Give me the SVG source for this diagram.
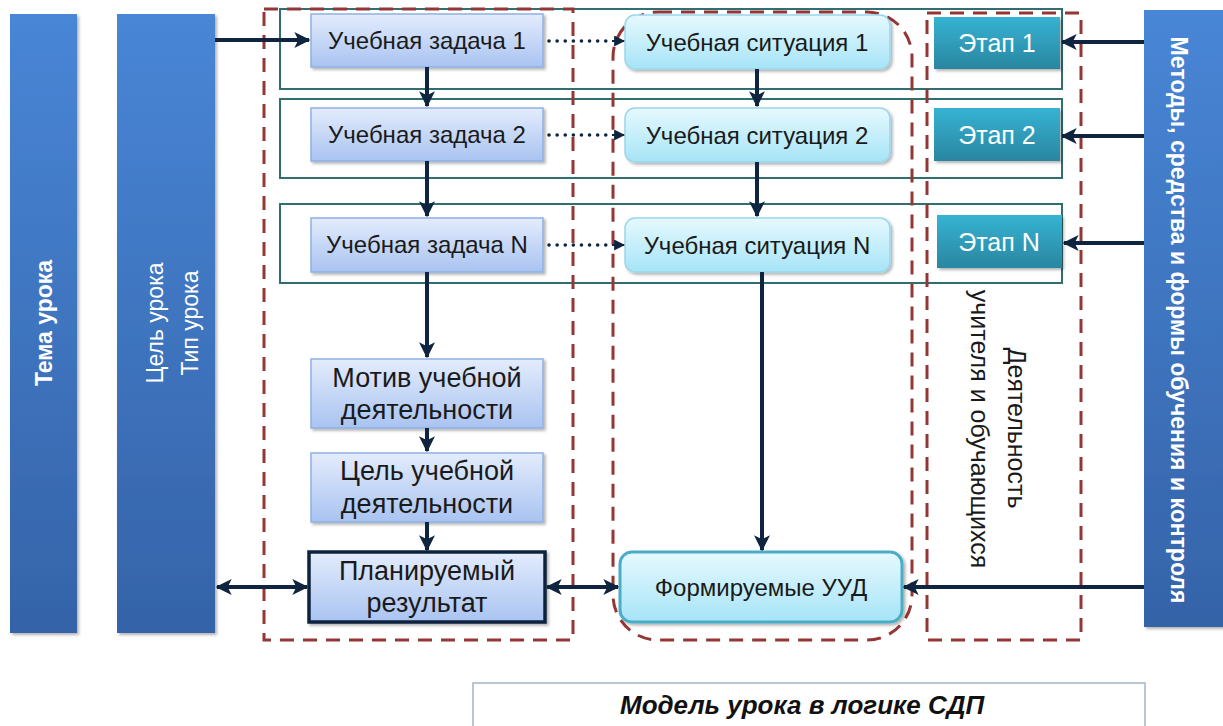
<svg xmlns="http://www.w3.org/2000/svg" width="1223" height="726" viewBox="0 0 1223 726">
<style>
  text { font-family: "Liberation Sans", Arial, sans-serif; }
  .bar { fill: url(#gBar); filter: url(#sh); }
  .bt { fill: #ffffff; font-size: 23px; }
  .task { fill: url(#gTask); stroke: #8fb0e3; stroke-width: 1.5; filter: url(#sh); }
  .sit { fill: url(#gSit); stroke: #9ad6ea; stroke-width: 1.5; filter: url(#sh); }
  .stage { fill: url(#gStage); filter: url(#sh); }
  .tx { fill: #1a1a1a; font-size: 24px; text-anchor: middle; }
  .tl { fill: #1a1a1a; font-size: 27px; text-anchor: middle; }
  .wt { fill: #ffffff; font-size: 25px; text-anchor: middle; }
  .row { fill: none; stroke: #2f6f72; stroke-width: 2; }
  .dash { fill: none; stroke: #943634; stroke-width: 3; stroke-dasharray: 14 9; }
  .ar { stroke: #0f243e; stroke-width: 4; fill: none; }
  .dot { stroke: #0f243e; stroke-width: 3.5; fill: none; stroke-dasharray: 0.1 8; stroke-linecap: round; }
</style>
<defs>
  <linearGradient id="gBar" x1="0" y1="0" x2="0" y2="1">
    <stop offset="0" stop-color="#4886d6"/>
    <stop offset="1" stop-color="#3563a8"/>
  </linearGradient>
  <linearGradient id="gTask" x1="0" y1="0" x2="0" y2="1">
    <stop offset="0" stop-color="#e3ecfc"/>
    <stop offset="1" stop-color="#a9c3f1"/>
  </linearGradient>
  <linearGradient id="gSit" x1="0" y1="0" x2="0" y2="1">
    <stop offset="0" stop-color="#e6f9fe"/>
    <stop offset="1" stop-color="#a6e4f7"/>
  </linearGradient>
  <linearGradient id="gStage" x1="0" y1="0" x2="0" y2="1">
    <stop offset="0" stop-color="#35b3d3"/>
    <stop offset="1" stop-color="#2a86a0"/>
  </linearGradient>
  <filter id="sh" x="-10%" y="-10%" width="130%" height="130%">
    <feDropShadow dx="2" dy="2" stdDeviation="1.5" flood-color="#000" flood-opacity="0.3"/>
  </filter>
  <marker id="ah" viewBox="0 0 12 12" refX="11" refY="6" markerWidth="16" markerHeight="16" markerUnits="userSpaceOnUse" orient="auto-start-reverse">
    <path d="M0,0 L12,6 L0,12 L3,6 Z" fill="#0f243e"/>
  </marker>
  <marker id="ahs" viewBox="0 0 10 10" refX="9" refY="5" markerWidth="11" markerHeight="11" markerUnits="userSpaceOnUse" orient="auto">
    <path d="M0,0 L10,5 L0,10 Z" fill="#0f243e"/>
  </marker>
</defs>
<rect width="1223" height="726" fill="#ffffff"/>

<!-- group frames -->
<g id="frames">
  <rect class="row" x="280" y="9" width="782" height="80"/>
  <rect class="row" x="280" y="99" width="782" height="79"/>
  <rect class="row" x="280" y="204" width="782" height="79"/>
  <rect class="dash" x="264" y="9" width="309" height="631"/>
  <rect class="dash" x="613" y="12" width="299" height="628" rx="45" ry="45"/>
  <rect class="dash" x="927" y="13" width="154" height="627"/>
</g>

<g id="bar-tema">
  <rect class="bar" x="10" y="14" width="67" height="619"/>
  <text class="bt" font-weight="bold" text-anchor="middle" transform="translate(52,323) rotate(-90)">Тема урока</text>
</g>
<g id="bar-cel">
  <rect class="bar" x="117" y="14" width="98" height="619"/>
  <text class="bt" font-size="22" text-anchor="middle" transform="translate(163,323) rotate(-90)">Цель урока</text>
  <text class="bt" font-size="22" text-anchor="middle" transform="translate(198,323) rotate(-90)">Тип урока</text>
</g>
<g id="bar-metody">
  <rect class="bar" x="1144" y="10" width="79" height="617"/>
  <text class="bt" font-weight="bold" font-size="25" text-anchor="middle" transform="translate(1171,320) rotate(90)">Методы, средства и формы обучения и контроля</text>
</g>

<g id="task1"><rect class="task" x="311" y="14" width="232" height="53"/><text class="tx" x="427" y="49">Учебная задача 1</text></g>
<g id="task2"><rect class="task" x="311" y="108" width="232" height="53"/><text class="tx" x="427" y="143">Учебная задача 2</text></g>
<g id="taskN"><rect class="task" x="311" y="218" width="232" height="54"/><text class="tx" x="427" y="253">Учебная задача N</text></g>
<g id="motiv"><rect class="task" x="311" y="359" width="232" height="69"/><text class="tl" x="427" y="387">Мотив учебной</text><text class="tl" x="427" y="419">деятельности</text></g>
<g id="cel-ud"><rect class="task" x="311" y="453" width="232" height="69"/><text class="tl" x="427" y="480">Цель учебной</text><text class="tl" x="427" y="513">деятельности</text></g>
<g id="plan"><rect class="task" x="309" y="552" width="236" height="70" style="stroke:#0f243e;stroke-width:3.5"/><text class="tl" x="427" y="580">Планируемый</text><text class="tl" x="427" y="612">результат</text></g>

<g id="sit1"><rect class="sit" x="625" y="15" width="265" height="54" rx="10"/><text class="tx" x="757" y="51">Учебная ситуация 1</text></g>
<g id="sit2"><rect class="sit" x="625" y="108" width="265" height="54" rx="10"/><text class="tx" x="757" y="144">Учебная ситуация 2</text></g>
<g id="sitN"><rect class="sit" x="625" y="218" width="265" height="54" rx="10"/><text class="tx" x="757" y="254">Учебная ситуация N</text></g>
<g id="uud"><rect class="sit" x="620" y="552" width="282" height="70" rx="12" style="stroke:#4bacc6;stroke-width:3"/><text class="tx" x="761" y="596">Формируемые УУД</text></g>

<g id="stage1"><rect class="stage" x="934" y="17" width="126" height="52"/><text class="wt" x="997" y="52">Этап 1</text></g>
<g id="stage2"><rect class="stage" x="934" y="108" width="126" height="53"/><text class="wt" x="997" y="144">Этап 2</text></g>
<g id="stageN"><rect class="stage" x="937" y="215" width="125" height="53"/><text class="wt" x="999" y="251">Этап N</text></g>

<g id="activity">
  <text fill="#1a1a1a" font-size="25" text-anchor="middle" transform="translate(1008,428) rotate(90)">Деятельность</text>
  <text fill="#1a1a1a" font-size="25" text-anchor="middle" transform="translate(971,429) rotate(90)">учителя и обучающихся</text>
</g>

<g id="connectors">
  <line class="ar" x1="215" y1="40" x2="309" y2="40" marker-end="url(#ah)"/>
  <line class="ar" x1="427" y1="67" x2="427" y2="106" marker-end="url(#ah)"/>
  <line class="ar" x1="427" y1="161" x2="427" y2="216" marker-end="url(#ah)"/>
  <line class="ar" x1="427" y1="272" x2="427" y2="357" marker-end="url(#ah)"/>
  <line class="ar" x1="427" y1="428" x2="427" y2="451" marker-end="url(#ah)"/>
  <line class="ar" x1="427" y1="522" x2="427" y2="550" marker-end="url(#ah)"/>
  <line class="ar" x1="757" y1="69" x2="757" y2="106" marker-end="url(#ah)"/>
  <line class="ar" x1="757" y1="162" x2="757" y2="216" marker-end="url(#ah)"/>
  <line class="ar" x1="762" y1="272" x2="762" y2="550" marker-end="url(#ah)"/>
  <line class="dot" x1="549" y1="41" x2="612" y2="41"/>
  <line x1="612" y1="41" x2="624" y2="41" stroke="#0f243e" stroke-width="2" marker-end="url(#ahs)"/>
  <line class="dot" x1="549" y1="135" x2="612" y2="135"/>
  <line x1="612" y1="135" x2="624" y2="135" stroke="#0f243e" stroke-width="2" marker-end="url(#ahs)"/>
  <line class="dot" x1="549" y1="245" x2="612" y2="245"/>
  <line x1="612" y1="245" x2="624" y2="245" stroke="#0f243e" stroke-width="2" marker-end="url(#ahs)"/>
  <line class="ar" x1="1144" y1="42" x2="1062" y2="42" marker-end="url(#ah)"/>
  <line class="ar" x1="1144" y1="136" x2="1062" y2="136" marker-end="url(#ah)"/>
  <line class="ar" x1="1144" y1="243" x2="1064" y2="243" marker-end="url(#ah)"/>
  <line class="ar" x1="1144" y1="587" x2="904" y2="587" marker-end="url(#ah)"/>
  <line class="ar" x1="217" y1="587" x2="307" y2="587" marker-start="url(#ah)" marker-end="url(#ah)"/>
  <line class="ar" x1="547" y1="587" x2="618" y2="587" marker-start="url(#ah)" marker-end="url(#ah)"/>
</g>

<g id="caption">
  <rect x="473" y="683" width="672" height="60" fill="#ffffff" stroke="#a5b4c8" stroke-width="1.5"/>
  <text x="620" y="714" fill="#111111" font-size="26" font-weight="bold" font-style="italic">Модель урока в логике СДП</text>
</g>
</svg>
